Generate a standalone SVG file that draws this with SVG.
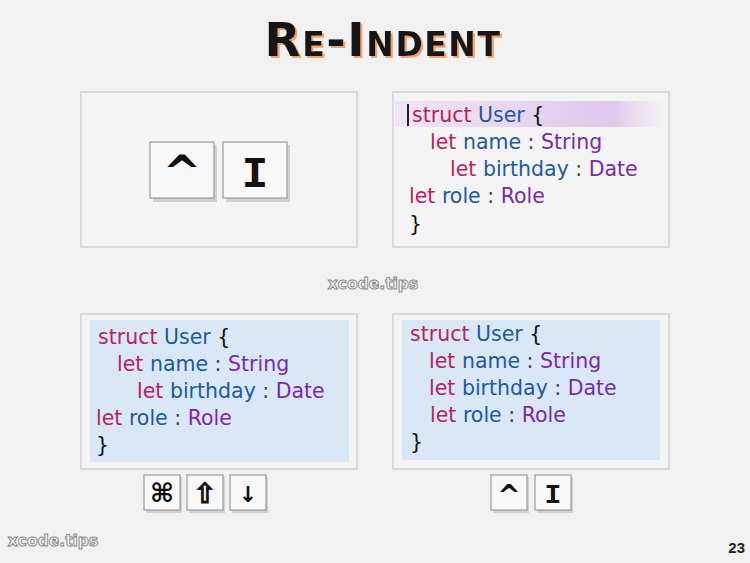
<svg xmlns="http://www.w3.org/2000/svg" width="750" height="563" viewBox="0 0 750 563">
<defs>
<style>
.panel{fill:#f4f4f4;stroke:#c9c9c9;stroke-width:1.2}
.code{fill:#d9e7f7}
.key{fill:#f8f8f8;stroke:#9c9c9c;stroke-width:1.2}
.kshadow{fill:#d0d0d0}
.c{font-family:"DejaVu Sans",sans-serif;font-size:20.5px}
.kw{fill:#b8235a}
.id{fill:#215a9c}
.ty{fill:#7b2aa6}
.pn{fill:#444}
.br{fill:#111}
.wm{font-family:"DejaVu Sans",sans-serif;font-size:15.5px;font-weight:bold;fill:#fbfbfb;stroke:#8a8a8a;stroke-width:1}
.kg{font-family:"DejaVu Sans",sans-serif;font-weight:bold;fill:#111;text-anchor:middle}
</style>
<linearGradient id="hl" x1="0" x2="1" y1="0" y2="0">
<stop offset="0" stop-color="#e6cdef" stop-opacity="0.4"/>
<stop offset="0.8" stop-color="#dcbcea" stop-opacity="0.8"/>
<stop offset="1" stop-color="#e8d2f0" stop-opacity="0"/>
</linearGradient>
<filter id="ts" x="-10%" y="-20%" width="120%" height="140%">
<feDropShadow dx="2" dy="2" stdDeviation="0.6" flood-color="#f0a36a" flood-opacity="1"/>
</filter>
</defs>
<rect width="750" height="563" fill="#f1f1f1"/>

<g id="title">
<text x="383" y="56" text-anchor="middle" font-family="DejaVu Sans,sans-serif" font-weight="bold" font-size="47" font-variant="small-caps" fill="#161616" letter-spacing="1.5" filter="url(#ts)">Re-Indent</text>
</g>

<g id="panel-keys">
<rect class="panel" x="81" y="92" width="276" height="155"/>
<rect class="kshadow" x="153" y="145" width="64" height="57"/>
<rect class="key" x="150" y="142" width="64" height="56"/>
<text class="kg" x="182" y="188" font-size="46">^</text>
<rect class="kshadow" x="226" y="145" width="64" height="57"/>
<rect class="key" x="223" y="142" width="64" height="56"/>
<text x="255" y="187" text-anchor="middle" font-family="Liberation Mono,monospace" font-weight="bold" font-size="44" fill="#111">I</text>
</g>

<g id="panel-before">
<rect class="panel" x="393" y="92" width="276" height="155"/>
<rect x="395" y="101" width="273" height="26" fill="url(#hl)"/>
<rect x="407" y="104" width="2" height="22" fill="#222"/>
<text class="c" x="412" y="122"><tspan class="kw">struct</tspan> <tspan class="id">User</tspan> <tspan class="br">{</tspan></text>
<text class="c" x="430" y="149"><tspan class="kw">let</tspan> <tspan class="id">name</tspan><tspan class="pn"> : </tspan><tspan class="ty">String</tspan></text>
<text class="c" x="450" y="176"><tspan class="kw">let</tspan> <tspan class="id">birthday</tspan><tspan class="pn"> : </tspan><tspan class="ty">Date</tspan></text>
<text class="c" x="409" y="203"><tspan class="kw">let</tspan> <tspan class="id">role</tspan><tspan class="pn"> : </tspan><tspan class="ty">Role</tspan></text>
<text class="c" x="409" y="231"><tspan class="br">}</tspan></text>
</g>

<text id="wm-center" class="wm" x="373" y="289" text-anchor="middle">xcode.tips</text>

<g id="panel-selected">
<rect class="panel" x="81" y="314" width="276" height="155"/>
<rect class="code" x="90" y="320" width="259" height="142"/>
<text class="c" x="98" y="344"><tspan class="kw">struct</tspan> <tspan class="id">User</tspan> <tspan class="br">{</tspan></text>
<text class="c" x="117" y="371"><tspan class="kw">let</tspan> <tspan class="id">name</tspan><tspan class="pn"> : </tspan><tspan class="ty">String</tspan></text>
<text class="c" x="137" y="398"><tspan class="kw">let</tspan> <tspan class="id">birthday</tspan><tspan class="pn"> : </tspan><tspan class="ty">Date</tspan></text>
<text class="c" x="96" y="425"><tspan class="kw">let</tspan> <tspan class="id">role</tspan><tspan class="pn"> : </tspan><tspan class="ty">Role</tspan></text>
<text class="c" x="96" y="452"><tspan class="br">}</tspan></text>
</g>

<g id="panel-after">
<rect class="panel" x="393" y="314" width="276" height="155"/>
<rect class="code" x="402" y="320" width="258" height="140"/>
<text class="c" x="410" y="341"><tspan class="kw">struct</tspan> <tspan class="id">User</tspan> <tspan class="br">{</tspan></text>
<text class="c" x="429" y="368"><tspan class="kw">let</tspan> <tspan class="id">name</tspan><tspan class="pn"> : </tspan><tspan class="ty">String</tspan></text>
<text class="c" x="429" y="395"><tspan class="kw">let</tspan> <tspan class="id">birthday</tspan><tspan class="pn"> : </tspan><tspan class="ty">Date</tspan></text>
<text class="c" x="430" y="422"><tspan class="kw">let</tspan> <tspan class="id">role</tspan><tspan class="pn"> : </tspan><tspan class="ty">Role</tspan></text>
<text class="c" x="410" y="449"><tspan class="br">}</tspan></text>
</g>

<g id="keys-left">
<rect class="kshadow" x="146" y="477" width="36" height="36"/>
<rect class="key" x="144" y="475" width="36" height="35"/>
<text class="kg" x="162" y="502" font-size="26">⌘</text>
<rect class="kshadow" x="189" y="477" width="36" height="36"/>
<rect class="key" x="187" y="475" width="36" height="35"/>
<text class="kg" x="205" y="503" font-size="28" stroke="#111" stroke-width="0.8">⇧</text>
<rect class="kshadow" x="232" y="477" width="36" height="36"/>
<rect class="key" x="230" y="475" width="36" height="35"/>
<text class="kg" x="248" y="502" font-size="22">↓</text>
</g>

<g id="keys-right">
<rect class="kshadow" x="493" y="477" width="36" height="36"/>
<rect class="key" x="491" y="475" width="36" height="35"/>
<text class="kg" x="509" y="505" font-size="28">^</text>
<rect class="kshadow" x="537" y="477" width="36" height="36"/>
<rect class="key" x="535" y="475" width="36" height="35"/>
<text x="553" y="503" text-anchor="middle" font-family="Liberation Mono,monospace" font-weight="bold" font-size="28" fill="#111">I</text>
</g>

<text id="wm-corner" class="wm" x="53" y="546" text-anchor="middle">xcode.tips</text>
<text id="page" x="745" y="553" text-anchor="end" font-family="Liberation Sans,sans-serif" font-weight="bold" font-size="15" fill="#222">23</text>
</svg>
